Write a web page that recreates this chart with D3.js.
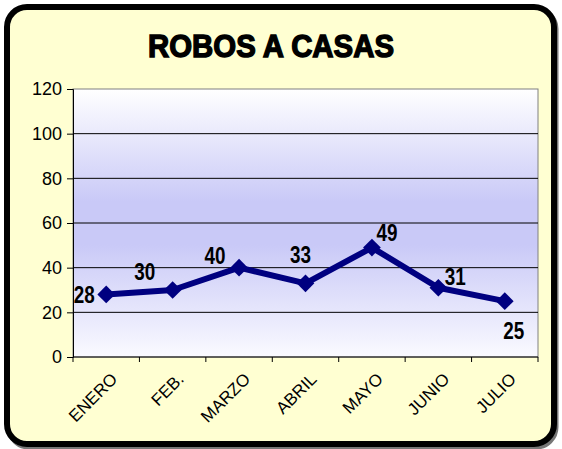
<!DOCTYPE html>
<html>
<head>
<meta charset="utf-8">
<script src="https://cdn.jsdelivr.net/npm/d3@7"></script>
<style>
  body { margin: 0; background: #fff; }
  svg { display: block; }
</style>
</head>
<body>
<div id="chart"></div>
<script>
// data
let months = ["ENERO", "FEB.", "MARZO", "ABRIL", "MAYO", "JUNIO", "JULIO"];
let robos = [28, 30, 40, 33, 49, 31, 25];
let y_ticks = [0, 20, 40, 60, 80, 100, 120];
let chart_title = "ROBOS A CASAS";

// label nudges (layout only)
let label_off = [[-22, 0], [-28, -18], [-24, -12], [-5, -29], [15, -15], [17, -11], [9, 29]];

const width = 562, height = 449;
const plot = {left: 73, right: 538, top: 89, bottom: 357};
const font = "'Liberation Sans', Arial, sans-serif";

let svg = d3.select("#chart").append("svg")
    .attr("width", width)
    .attr("height", height);

let defs = svg.append("defs");
let grad = defs.append("linearGradient")
    .attr("id", "plotGrad")
    .attr("x1", 0).attr("y1", 0).attr("x2", 0).attr("y2", 1);
grad.append("stop").attr("offset", "0%").attr("stop-color", "#ffffff");
grad.append("stop").attr("offset", "42%").attr("stop-color", "#c9c9f7");
grad.append("stop").attr("offset", "58%").attr("stop-color", "#c9c9f7");
grad.append("stop").attr("offset", "100%").attr("stop-color", "#fafaff");

// outer frame, with a soft shadow on the right/bottom
svg.append("rect")
    .attr("x", 9).attr("y", 9)
    .attr("width", 547).attr("height", 438)
    .attr("rx", 20).attr("ry", 20)
    .attr("fill", "none")
    .attr("stroke", "#777")
    .attr("stroke-width", 5);
svg.append("rect")
    .attr("x", 7).attr("y", 7)
    .attr("width", 547).attr("height", 437)
    .attr("rx", 20).attr("ry", 20)
    .attr("fill", "#ffffd2")
    .attr("stroke", "#000")
    .attr("stroke-width", 6);

// title
svg.append("text")
    .attr("x", 271)
    .attr("y", 57)
    .attr("text-anchor", "middle")
    .attr("textLength", 246)
    .attr("lengthAdjust", "spacingAndGlyphs")
    .style("font-family", font)
    .style("font-weight", "bold")
    .style("font-size", "32px")
    .style("stroke", "#000")
    .style("stroke-width", 1.4)
    .text(chart_title);

let x = d3.scaleBand()
    .domain(months)
    .range([plot.left, plot.right]);

let y = d3.scaleLinear()
    .domain([0, 120])
    .range([plot.bottom, plot.top]);

// plot area
svg.append("rect")
    .attr("x", plot.left).attr("y", plot.top)
    .attr("width", plot.right - plot.left)
    .attr("height", plot.bottom - plot.top)
    .attr("fill", "url(#plotGrad)")
    .attr("stroke", "#808080")
    .attr("stroke-width", 1);

// gridlines
svg.append("g")
    .selectAll("line")
    .data(y_ticks.slice(1, -1))
    .enter().append("line")
    .attr("x1", plot.left).attr("x2", plot.right)
    .attr("y1", d => y(d)).attr("y2", d => y(d))
    .attr("stroke", "#000")
    .attr("stroke-width", 1);

// y axis
let y_axis = svg.append("g")
    .attr("transform", "translate(" + plot.left + ",0)")
    .call(d3.axisLeft(y).tickValues(y_ticks).tickSize(6).tickPadding(5));
y_axis.select(".domain").attr("stroke", "#000");
y_axis.selectAll("text")
    .style("font-family", font)
    .style("font-size", "18px")
    .attr("fill", "#000");

// x axis
let x_axis = svg.append("g")
    .attr("transform", "translate(0," + plot.bottom + ")");
x_axis.append("line")
    .attr("x1", plot.left).attr("x2", plot.right)
    .attr("stroke", "#000");
x_axis.selectAll(".tk")
    .data(months.concat(["_end"]))
    .enter().append("line")
    .attr("class", "tk")
    .attr("x1", (d, i) => i < months.length ? x(d) : plot.right)
    .attr("x2", (d, i) => i < months.length ? x(d) : plot.right)
    .attr("y1", 0).attr("y2", 5)
    .attr("stroke", "#000");
x_axis.selectAll(".lbl")
    .data(months)
    .enter().append("text")
    .attr("class", "lbl")
    .attr("transform", d => "translate(" + (x(d) + x.bandwidth() / 2 + 8) + ",19) rotate(-45)")
    .attr("text-anchor", "end")
    .attr("dy", "0.35em")
    .style("font-family", font)
    .style("font-size", "17px")
    .text(d => d);

// line
let cx = (d, i) => x(months[i]) + x.bandwidth() / 2;
svg.append("path")
    .datum(robos)
    .attr("fill", "none")
    .attr("stroke", "#000080")
    .attr("stroke-width", 6)
    .attr("stroke-linejoin", "round")
    .attr("d", d3.line().x(cx).y(d => y(d)));

// markers
svg.append("g")
    .selectAll("path")
    .data(robos)
    .enter().append("path")
    .attr("d", d3.symbol().type(d3.symbolDiamond2).size(200))
    .attr("transform", (d, i) => "translate(" + cx(d, i) + "," + y(d) + ")")
    .attr("fill", "#000080");

// value labels
svg.append("g")
    .selectAll("text")
    .data(robos)
    .enter().append("text")
    .attr("x", (d, i) => cx(d, i) + label_off[i][0])
    .attr("y", (d, i) => y(d) + label_off[i][1])
    .attr("text-anchor", "middle")
    .attr("dy", "0.35em")
    .attr("textLength", 21)
    .attr("lengthAdjust", "spacingAndGlyphs")
    .style("font-family", font)
    .style("font-weight", "bold")
    .style("font-size", "24px")
    .text(d => d);
</script>
</body>
</html>
